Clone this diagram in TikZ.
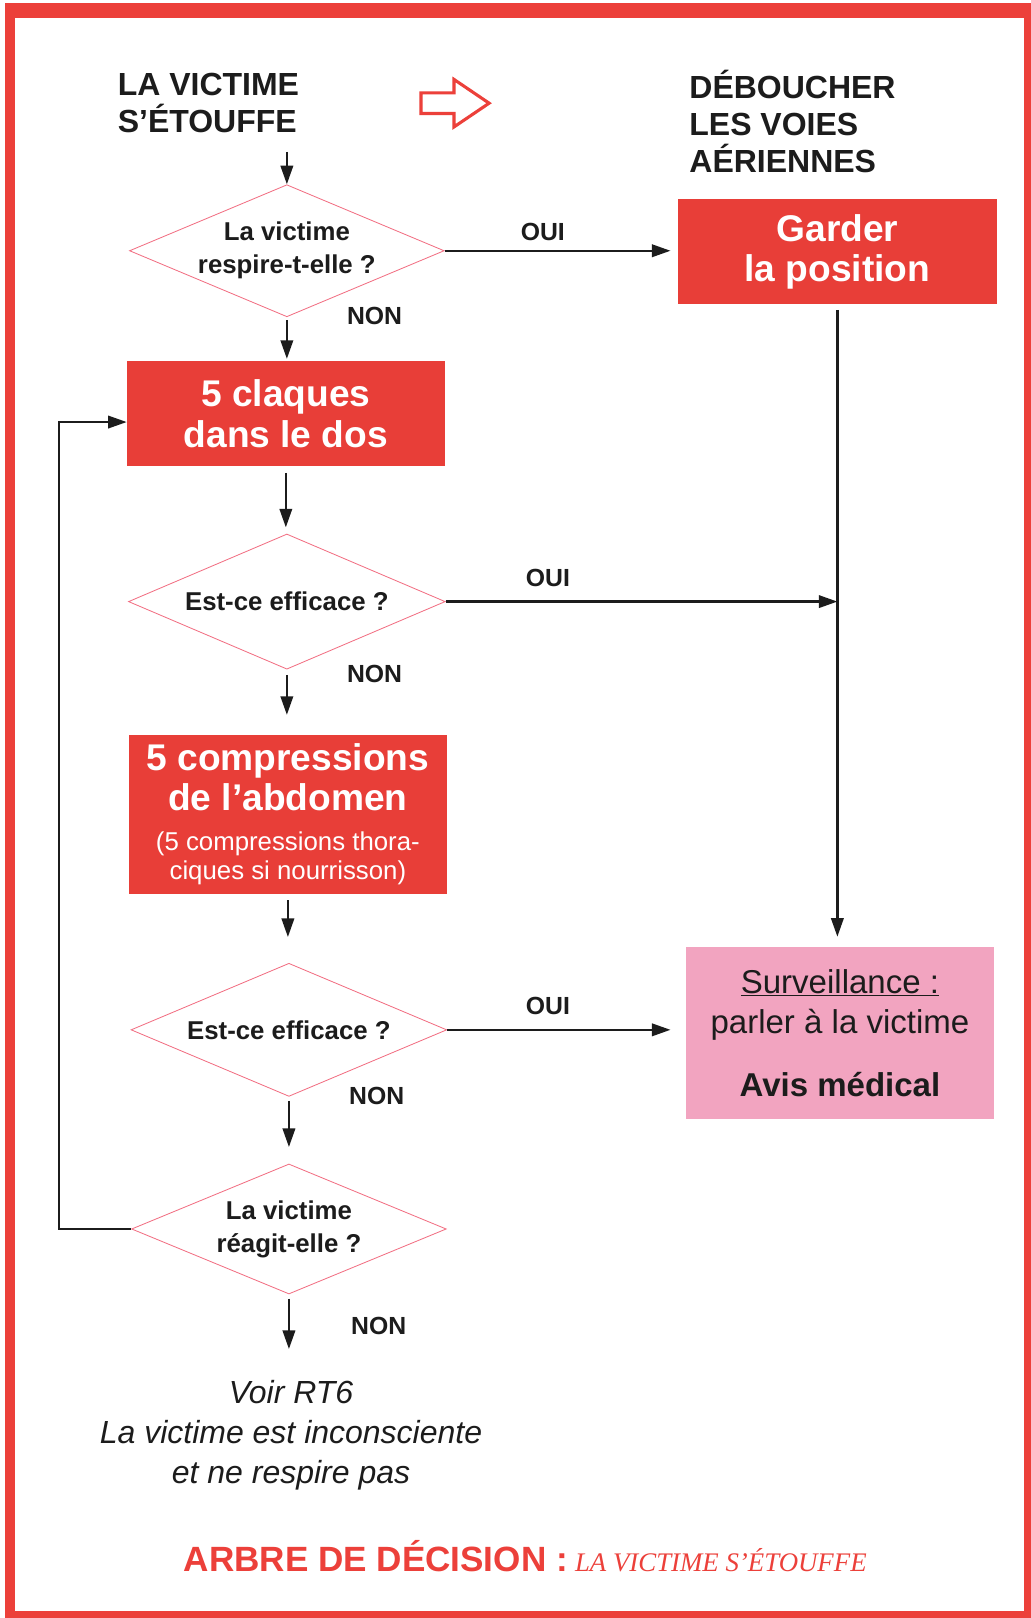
\documentclass[tikz,border=0pt]{standalone}
\usepackage{fontspec}
\setmainfont{Liberation Sans}
\newfontfamily\serifit{Liberation Serif}
\usetikzlibrary{arrows.meta,shapes.geometric,calc}
\definecolor{boxred}{RGB}{232,62,56}
\definecolor{framered}{RGB}{236,64,58}
\definecolor{boxpink}{RGB}{242,164,192}
\definecolor{diamondline}{RGB}{242,110,130}
\definecolor{ink}{RGB}{28,28,28}
\newcommand{\fsz}[2]{\fontsize{#1}{#2}\selectfont}
\begin{document}
\begin{tikzpicture}[x=1pt,y=-1pt,
  arr/.style={draw=ink,line width=2.3pt,-{Triangle[length=18pt,width=12pt]}},
  redbox/.style={rectangle,fill=boxred,text=white,font=\bfseries\fsz{36}{39},align=center,inner sep=0pt},
  question/.style={diamond,draw=diamondline,line width=0.8pt,inner sep=0pt,aspect=2.4,
    font=\bfseries\fsz{25}{32},align=center,text=ink},
  answer/.style={font=\bfseries\fsz{24}{28},text=ink,inner sep=0pt},
  heading/.style={font=\bfseries\fsz{31}{36},align=left,text=ink,inner sep=0pt},
]
\useasboundingbox (0,0) rectangle (999,1568);
% red frame, heavier along the top
\fill[framered] (5,3) rectangle (999,1568);
\fill[white] (15,17) rectangle (992,1561);

% headings and the outlined arrow between them
\node[heading] (t1) at (202,100) {LA VICTIME\\S’ÉTOUFFE};
\node[heading] (t2) at (768,118) {DÉBOUCHER\\LES VOIES\\AÉRIENNES};
\draw[framered,line width=3pt,fill=white,line join=miter]
  (408,90) -- (440,90) -- (440,77) -- (474,100) -- (440,123) -- (440,110) -- (408,110) -- cycle;

% questions
\node[question,minimum width=305pt,minimum height=128pt] (d1) at (278,243) {La victime\\respire-t-elle ?};
\node[question,minimum width=307pt,minimum height=131pt] (d2) at (278,583) {Est-ce efficace ?};
\node[question,minimum width=306pt,minimum height=129pt] (d3) at (280,998) {Est-ce efficace ?};
\node[question,minimum width=305pt,minimum height=126pt] (d4) at (280,1191) {La victime\\réagit-elle ?};

% actions
\node[redbox,minimum width=309pt,minimum height=102pt] (garder) at (811.5,244) {Garder\\la position};
\node[redbox,minimum width=308pt,minimum height=102pt] (claques) at (277,401) {5 claques\\dans le dos};
\node[redbox,minimum width=308pt,minimum height=154pt] (comp) at (279,789)
  {5 compressions\\de l’abdomen\\{\mdseries\fsz{25}{28}(5 compressions thora-}\\[-11pt]{\mdseries\fsz{25}{28}ciques si nourrisson)}};
\node[rectangle,fill=boxpink,minimum width=298pt,minimum height=166pt,inner sep=0pt,
  font=\fsz{32}{39},align=center,text=ink] (surv) at (814,1001)
  {\underline{Surveillance :}\\parler à la victime\\[22pt]\textbf{Avis médical}};

% outcome and caption
\node[font=\itshape\fsz{31}{39},align=center,text=ink,inner sep=0pt] (fin) at (282,1391)
  {Voir RT6\\La victime est inconsciente\\et ne respire pas};
\node[inner sep=0pt] (caption) at (509,1508)
  {\textcolor{framered}{\bfseries\fsz{34}{38}ARBRE DE DÉCISION :}\hspace{7pt}{\serifit\itshape\fsz{26}{30}\textcolor{framered}{LA VICTIME S’ÉTOUFFE}}};

% answers
\node[answer] (oui1) at (526,225) {OUI};
\node[answer] (oui2) at (531,560) {OUI};
\node[answer] (oui3) at (531,975) {OUI};
\node[answer] (non1) at (363,306) {NON};
\node[answer] (non2) at (363,653) {NON};
\node[answer] (non3) at (365,1062) {NON};
\node[answer] (non4) at (367,1285) {NON};

% connectors
\draw[arr] ($(t1.south -| d1.north)+(0,18)$) -- (d1.north);
\draw[arr] (d1.east) -- ($(d1.east -| garder.west)+(-7,0)$);
\draw[arr] ($(d1.south)+(0,3)$) -- ($(d1.south |- claques.north)+(0,-2)$);
\draw[arr] ($(claques.south)+(0,6)$) -- ($(claques.south |- d2.north)+(0,-6)$);
\draw[arr] (d2.east) -- (d2.east -| garder.south);
\draw[arr] ($(d2.south)+(0,5)$) -- ($(d2.south |- comp.north)+(0,-19)$);
\draw[arr] ($(comp.south)+(0,6)$) -- ($(comp.south |- d3.north)+(0,-25)$);
\draw[arr] (d3.east) -- ($(d3.east -| surv.west)+(-15,0)$);
\draw[arr] ($(d3.south)+(0,4)$) -- ($(d3.south |- d4.north)+(0,-16)$);
\draw[arr] ($(d4.south)+(0,4)$) -- ($(d4.south |- fin.north)+(0,-30)$);
\draw[arr] ($(garder.south)+(0,5)$) -- ($(garder.south |- surv.north)+(0,-10)$);
\draw[arr] (d4.west) -- ++(-70,0) |- ($(claques.west)+(0,8)$);
\end{tikzpicture}
\end{document}
